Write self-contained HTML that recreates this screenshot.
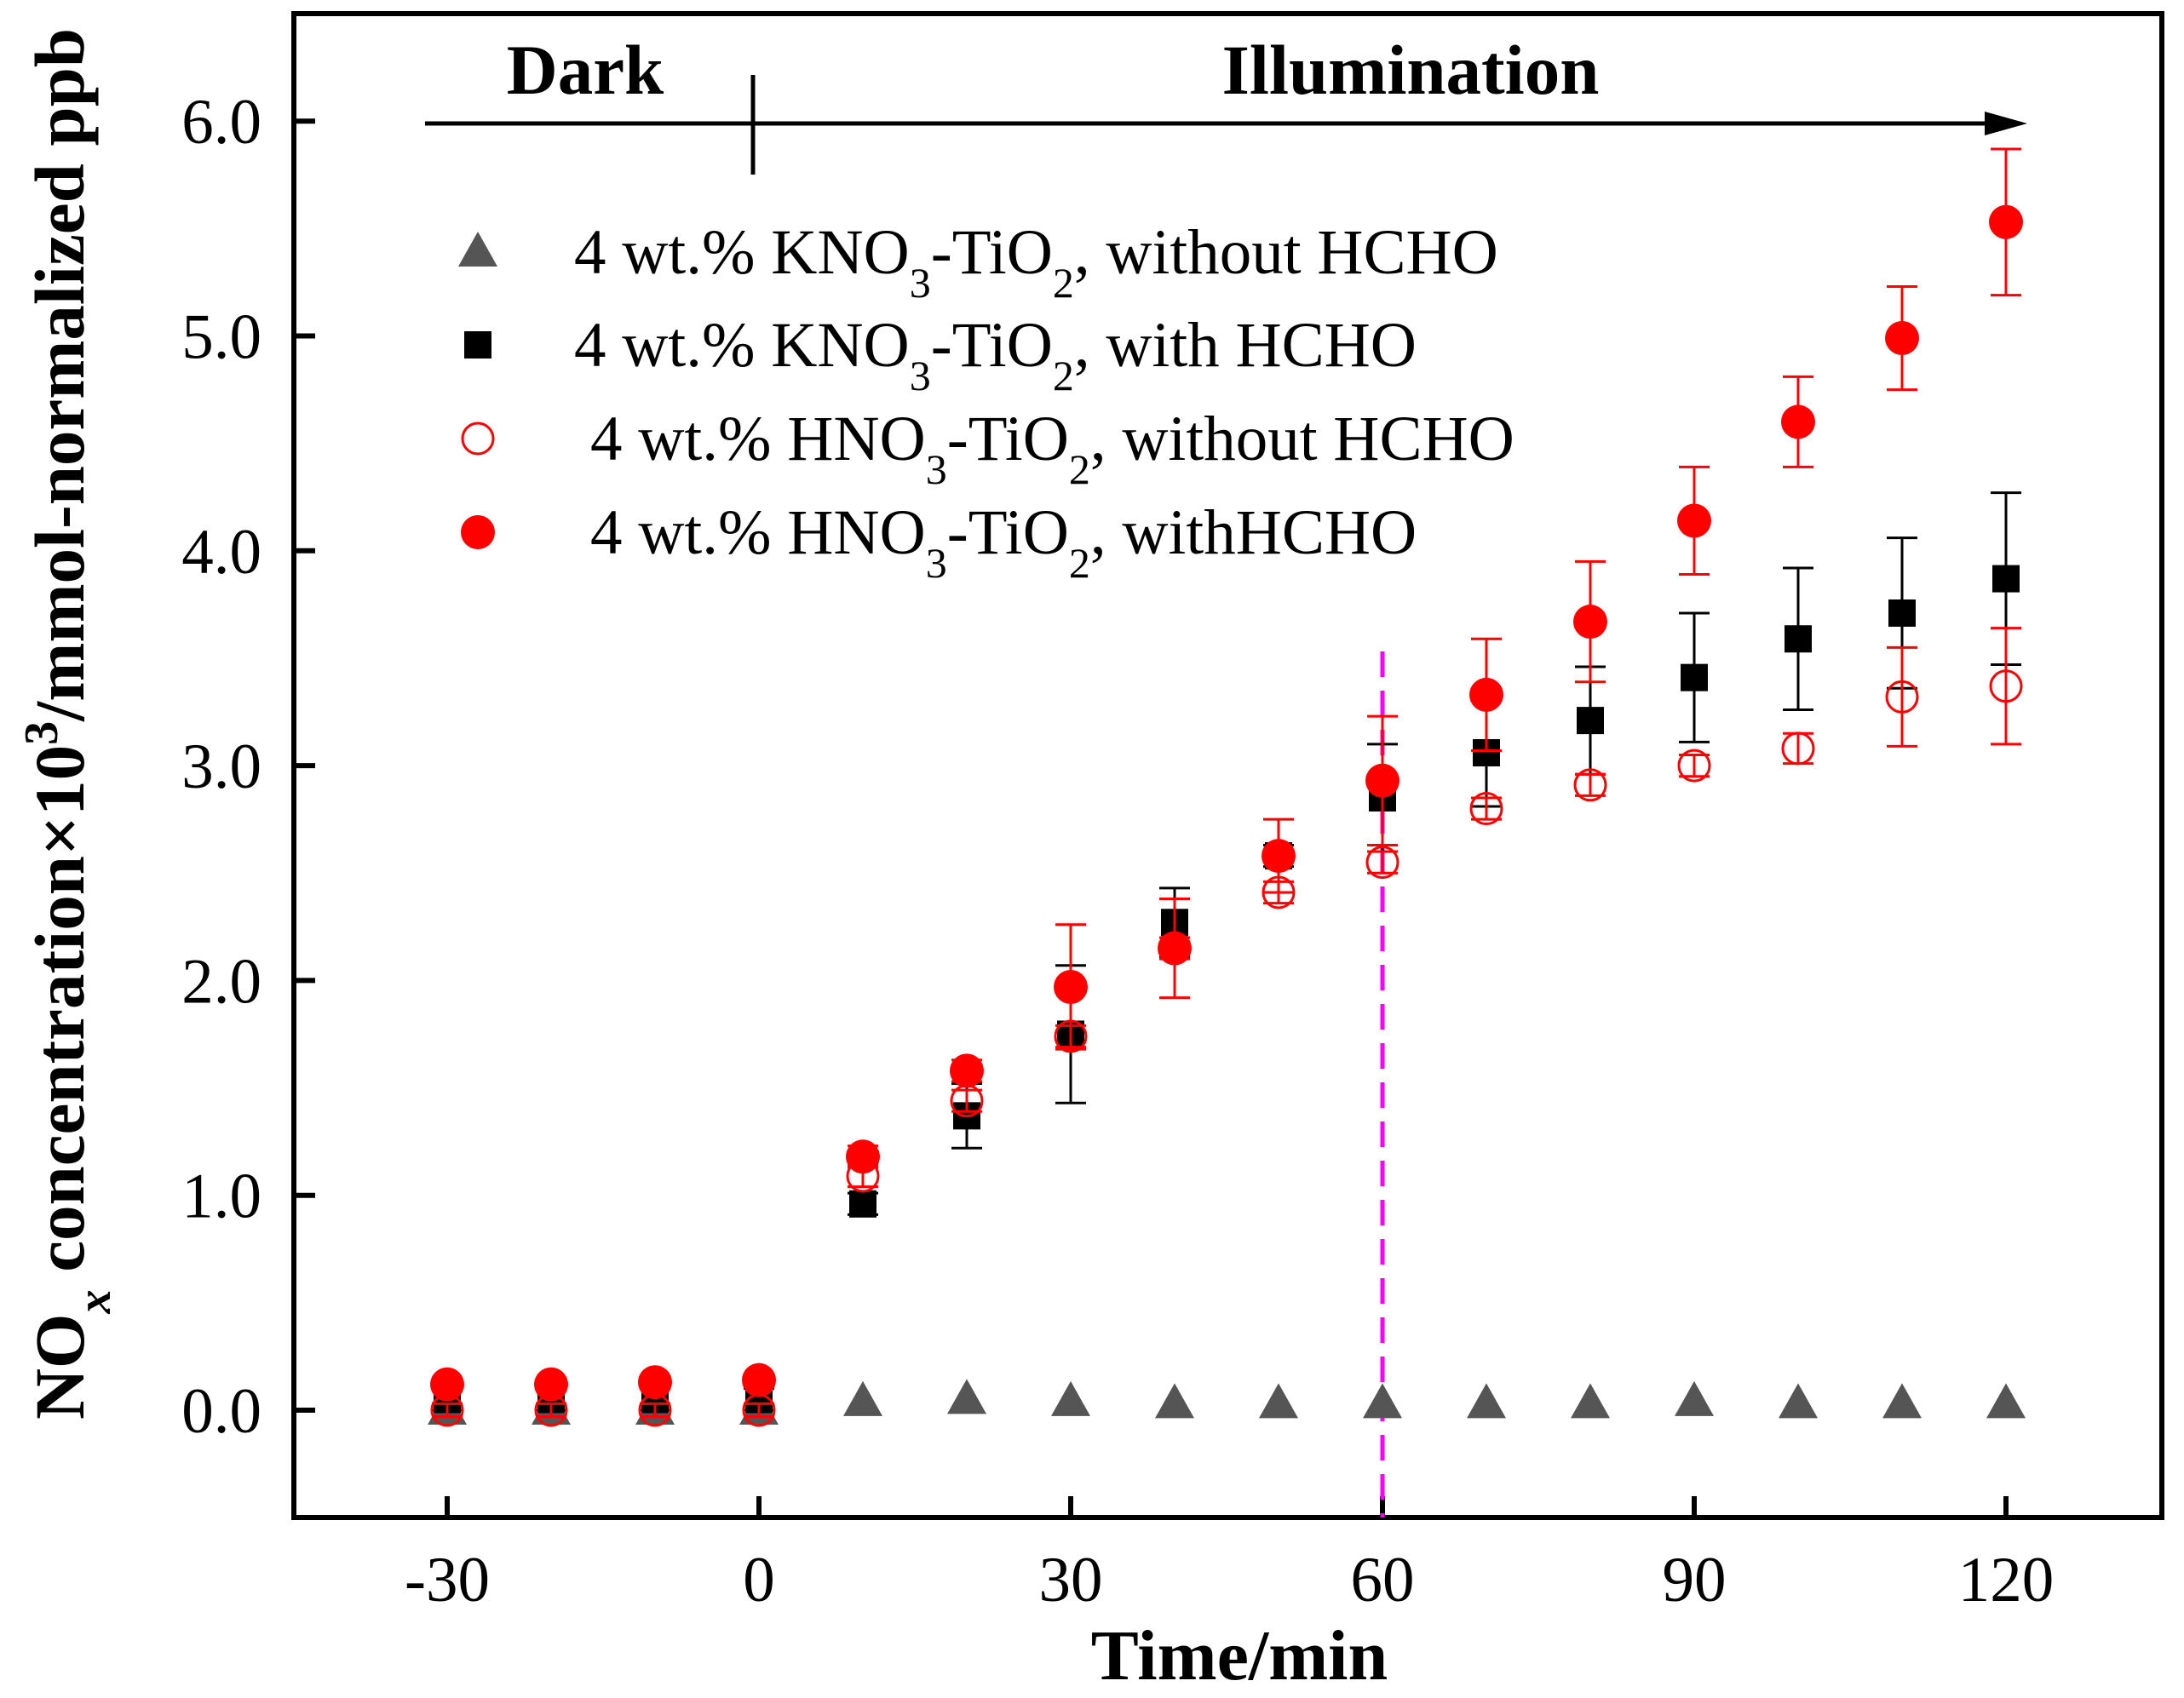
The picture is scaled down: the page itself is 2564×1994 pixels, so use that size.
<!DOCTYPE html>
<html><head><meta charset="utf-8"><style>html,body{margin:0;padding:0;background:#fff}svg{display:block}text{font-family:"Liberation Serif",serif}</style></head>
<body>
<svg id="c" width="2564" height="1994" viewBox="0 0 2564 1994" xmlns="http://www.w3.org/2000/svg">
<g id="g"></g>
</svg>
<script>
const times=[-30,-20,-10,0,10,20,30,40,50,60,70,80,90,100,110,120];
const kNoH=[0,0,0,0,0.04,0.05,0.04,0.03,0.03,0.03,0.03,0.03,0.04,0.03,0.03,0.03];
const kWithH=[0.05,0.05,0.05,0.05,0.96,1.37,1.75,2.27,2.58,2.85,3.06,3.21,3.41,3.59,3.71,3.87];
const kWithHErr=[0.05,0.05,0.05,0.05,0.05,0.15,0.32,0.16,0.05,0.25,0.25,0.25,0.3,0.33,0.35,0.4];
const hNoH=[0,0,0,0,1.09,1.44,1.74,2.15,2.41,2.55,2.8,2.91,3.0,3.08,3.32,3.37];
const hNoHErr=[0.03,0.03,0.03,0.03,0.05,0.05,0.05,0.05,0.05,0.05,0.05,0.05,0.05,0.07,0.23,0.27];
const hWithH=[0.12,0.12,0.13,0.14,1.18,1.58,1.97,2.15,2.58,2.93,3.33,3.67,4.14,4.6,4.99,5.53];
const hWithHErr=[0.02,0.02,0.02,0.02,0.05,0.05,0.29,0.23,0.17,0.3,0.26,0.28,0.25,0.21,0.24,0.34];
const xTicks=[-30,0,30,60,90,120];
const yTicks=[0,1,2,3,4,5,6];
const yTickLabels=["0.0","1.0","2.0","3.0","4.0","5.0","6.0"];

const X=v=>891+(v/30)*366;
const Y=v=>1656-v*252.3;
const NS="http://www.w3.org/2000/svg";
const g=document.getElementById('g');
function mk(t,a,txt){const e=document.createElementNS(NS,t);for(const k in a)e.setAttribute(k,a[k]);if(txt!=null)e.textContent=txt;g.appendChild(e);return e;}

let e=mk('rect',{x:345,y:16,width:2193,height:1766,fill:'none',stroke:'#000','stroke-width':6});


xTicks.forEach(v=>{
 let t=mk('line',{x1:X(v),x2:X(v),y1:1782,y2:1757,stroke:'#000','stroke-width':6});
 
 
 let l=mk('text',{x:X(v),y:1880,'font-size':75,'text-anchor':'middle'},String(v));
 
 
});
yTicks.forEach((v,i)=>{
 let t=mk('line',{x1:345,x2:370,y1:Y(v),y2:Y(v),stroke:'#000','stroke-width':6});
 
 
 let l=mk('text',{x:307,y:Y(v)+26,'font-size':75,'text-anchor':'end'},yTickLabels[i]);
 
 
});
e=mk('text',{x:1455,y:1972,'font-size':84,'font-weight':'bold','text-anchor':'middle'},'Time/min');


e=mk('text',{x:0,y:0,'font-size':83,'font-weight':'bold','text-anchor':'middle',transform:'translate(98,850) rotate(-90)'});
e.innerHTML='NO<tspan baseline-shift="sub" font-size="56" font-style="italic">x</tspan> concentration×10<tspan baseline-shift="super" font-size="56">3</tspan>/mmol-normalized ppb';



e=mk('line',{x1:499,x2:2345,y1:145,y2:145,stroke:'#000','stroke-width':5});


e=mk('polygon',{points:'2380,145 2330,131 2330,159',fill:'#000'});


e=mk('line',{x1:884,x2:884,y1:88,y2:205,stroke:'#000','stroke-width':5});


e=mk('text',{x:687,y:110,'font-size':83,'font-weight':'bold','text-anchor':'middle'},'Dark');


e=mk('text',{x:1656,y:110,'font-size':83,'font-weight':'bold','text-anchor':'middle'},'Illumination');



e=mk('line',{x1:X(60),x2:X(60),y1:765,y2:1782,stroke:'#ff00ff','stroke-width':5,'stroke-dasharray':'30,16'});



function errbar(x,v,err,color,name){
 const cx=X(x),y1=Y(v+err),y2=Y(v-err);
 let l=mk('line',{x1:cx,x2:cx,y1:y1,y2:y2,stroke:color,'stroke-width':3});
 
 
 [y1,y2].forEach(yy=>{let c=mk('line',{x1:cx-18,x2:cx+18,y1:yy,y2:yy,stroke:color,'stroke-width':3});
 
 });
}
times.forEach((t,i)=>{const cx=X(t),cy=Y(kNoH[i]);
 let p=mk('polygon',{points:`${cx},${cy-24} ${cx-23},${cy+17} ${cx+23},${cy+17}`,fill:'#555'});
 
 });
times.forEach((t,i)=>{errbar(t,kWithH[i],kWithHErr[i],'#000','errorbar-kno3-with-hcho');
 let r=mk('rect',{x:X(t)-16,y:Y(kWithH[i])-16,width:32,height:32,fill:'#000'});
 
 });
times.forEach((t,i)=>{errbar(t,hNoH[i],hNoHErr[i],'#f00','errorbar-hno3-without-hcho');
 let c=mk('circle',{cx:X(t),cy:Y(hNoH[i]),r:18,fill:'none',stroke:'#f00','stroke-width':3});
 
 });
times.forEach((t,i)=>{errbar(t,hWithH[i],hWithHErr[i],'#f00','errorbar-hno3-with-hcho');
 let c=mk('circle',{cx:X(t),cy:Y(hWithH[i]),r:20,fill:'#f00'});
 
 });

const ly=[296,405,515,625];
e=mk('polygon',{points:`561,${ly[0]-24} 538,${ly[0]+17} 584,${ly[0]+17}`,fill:'#555'});


e=mk('rect',{x:545,y:ly[1]-16,width:32,height:32,fill:'#000'});


e=mk('circle',{cx:561,cy:ly[2],r:18,fill:'none',stroke:'#f00','stroke-width':3});


e=mk('circle',{cx:561,cy:ly[3],r:20,fill:'#f00'});


const legTexts=[
 [674,'4 wt.% KNO<tspan baseline-shift="sub" font-size="50">3</tspan>-TiO<tspan baseline-shift="sub" font-size="50">2</tspan>, without HCHO'],
 [674,'4 wt.% KNO<tspan baseline-shift="sub" font-size="50">3</tspan>-TiO<tspan baseline-shift="sub" font-size="50">2</tspan>, with HCHO'],
 [693,'4 wt.% HNO<tspan baseline-shift="sub" font-size="50">3</tspan>-TiO<tspan baseline-shift="sub" font-size="50">2</tspan>, without HCHO'],
 [693,'4 wt.% HNO<tspan baseline-shift="sub" font-size="50">3</tspan>-TiO<tspan baseline-shift="sub" font-size="50">2</tspan>, withHCHO']];
legTexts.forEach((lt,i)=>{let t=mk('text',{x:lt[0],y:ly[i]+25,'font-size':75});t.innerHTML=lt[1];
 
 });
</script>
</body></html>
